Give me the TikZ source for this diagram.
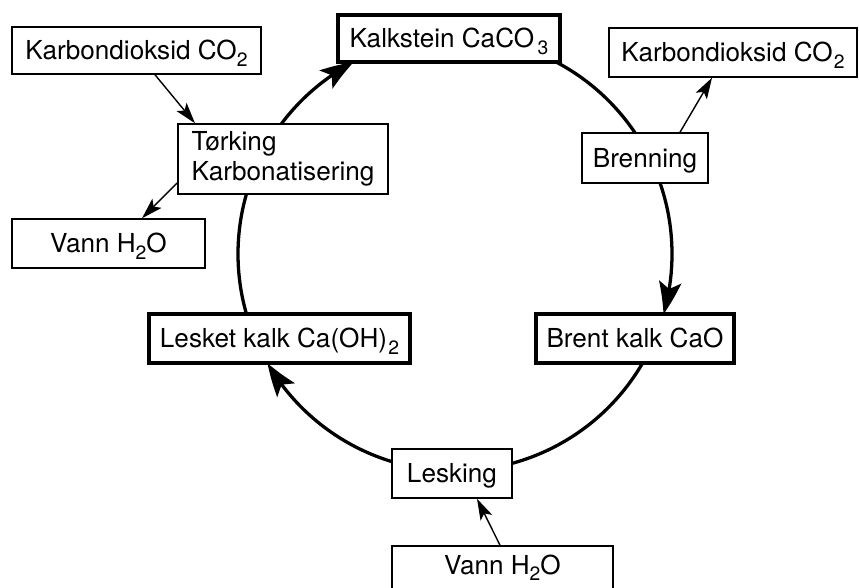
\documentclass[tikz,border=0pt]{standalone}
\usepackage{fontspec}
\setmainfont{TeX Gyre Heros}
\usetikzlibrary{arrows.meta,bending,calc}
\newcommand\chsub[1]{\raisebox{-0.24em}{\fontsize{16.5}{17}\selectfont #1}}
\begin{document}
\begin{tikzpicture}[x=0.03cm, y=-0.03cm,
  every node/.style={font=\fontsize{22.3}{25.6}\selectfont},
  boxbase/.style={draw, line width=1.3pt, fill=white, inner sep=0pt},
  box/.style={boxbase, text height=16pt, text depth=0pt},
  thickbox/.style={box, line width=3.2pt},
  sz/.style 2 args={minimum width=#1*0.03cm, minimum height=#2*0.03cm},
  cyc/.style={line width=2.8pt},
  cycarrow/.style={cyc, -{Stealth[length=28pt,width=19pt,inset=6pt,bend]}},
  thinarrow/.style={line width=1.2pt, -{Stealth[length=18pt,width=11pt,inset=4pt]}}
]
\useasboundingbox (0,0) rectangle (859,588);
\clip (0,0) rectangle (859,588);
\coordinate (C) at (455,254);

% nodes
\node[box, sz={249}{47}] (co2L) at (136.5,50.5) {Karbondioksid CO\chsub{2}};
\node[thickbox, sz={222}{47}] (kalk) at (449,38.5) {Kalkstein CaCO\hspace{3pt}\chsub{3}};
\node[box, sz={248}{49}] (co2R) at (733,52.5) {Karbondioksid CO\kern1pt\chsub{2}};
\node[boxbase, sz={210}{70}, align=left] (tork) at (283,159) {Tørking\\Karbonatisering};
\node[box, sz={126}{50}] (bren) at (645,158) {Brenning};
\node[box, sz={193}{49}] (vannL) at (108.5,243.5) {Vann H\chsub{2}O};
\node[thickbox, sz={261}{49}] (lesket) at (279.5,338.5) {Lesket kalk Ca(OH)\kern1pt\chsub{2}};
\node[thickbox, sz={198}{49}] (brent) at (635,338.5) {Brent kalk CaO};
\node[box, sz={120}{49}] (lesk) at (452,473.5) {Lesking};
\node[box, sz={221}{49}, text depth=9pt] (vannB) at (502.5,570.5) {Vann H\chsub{2}O};

% cycle arcs (radius 217px = 6.51cm)
\draw[cyc] (C) ++(62.2:6.51cm) arc[start angle=62.2, end angle=33.9, radius=6.51cm];
\draw[cycarrow] (C) ++(19.1:6.51cm) arc[start angle=19.1, end angle=-16.1, radius=6.51cm];
\draw[cyc] (C) ++(-30.2:6.51cm) arc[start angle=-30.2, end angle=-74.8, radius=6.51cm];
\draw[cycarrow] (C) ++(-106.9:6.51cm) arc[start angle=-106.9, end angle=-149.8, radius=6.51cm];
\draw[cyc] (C) ++(-163.9:6.51cm) arc[start angle=-163.9, end angle=-196.1, radius=6.51cm];
\draw[cycarrow] (C) ++(143.2:6.51cm) arc[start angle=143.2, end angle=117.8, radius=6.51cm];

% thin arrows
\draw[thinarrow] ($(co2L.south)+(18.5,0)$) -- ($(tork.north)+(-88,0)$);
\draw[thinarrow] ($(tork.west)+(0,24)$) -- ($(vannL.north)+(33.5,0)$);
\draw[thinarrow] ($(bren.north)+(35,0)$) -- ($(co2R.south)+(-21,0)$);
\draw[thinarrow] ($(vannB.north)+(-2.5,0)$) -- ($(lesk.south)+(25,0)$);
\end{tikzpicture}
\end{document}
